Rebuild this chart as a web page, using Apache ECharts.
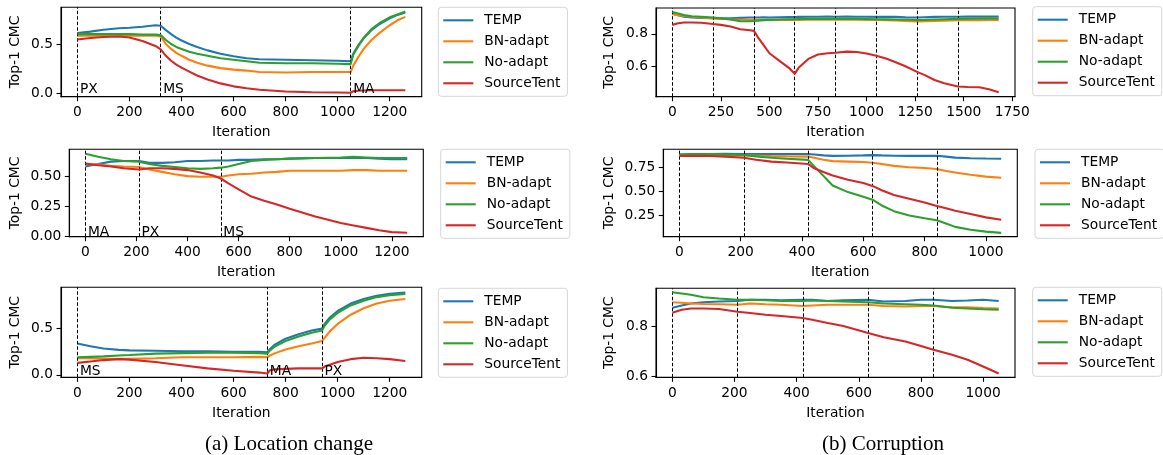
<!DOCTYPE html>
<html>
<head>
<meta charset="utf-8">
<script src="https://cdn.jsdelivr.net/npm/echarts@6/dist/echarts.min.js"></script>
<style>
html,body{margin:0;padding:0;background:#fff;}
#chart{width:1163px;height:455px;}
</style>
</head>
<body>
<div id="chart"></div>
<script>
// ---------------- DATA ----------------
const seriesNames = ['TEMP', 'BN-adapt', 'No-adapt', 'SourceTent'];

// (a) Location change, top: PX -> MS -> MA
const a1_iter = [0, 50, 100, 160, 200, 250, 300, 320, 340, 360, 380, 400, 430, 460, 500, 550, 600, 650, 700, 800, 900, 1000, 1050, 1060, 1080, 1100, 1130, 1160, 1200, 1230, 1260];
const a1_temp = [0.61, 0.625, 0.645, 0.66, 0.665, 0.675, 0.69, 0.685, 0.64, 0.60, 0.565, 0.535, 0.50, 0.47, 0.435, 0.40, 0.375, 0.355, 0.345, 0.34, 0.335, 0.33, 0.325, 0.40, 0.49, 0.56, 0.64, 0.70, 0.76, 0.795, 0.82];
const a1_bn   = [0.585, 0.585, 0.585, 0.585, 0.585, 0.585, 0.585, 0.575, 0.50, 0.45, 0.41, 0.38, 0.34, 0.31, 0.28, 0.255, 0.24, 0.23, 0.215, 0.21, 0.215, 0.215, 0.215, 0.28, 0.37, 0.45, 0.54, 0.61, 0.69, 0.74, 0.775];
const a1_noa  = [0.60, 0.60, 0.60, 0.60, 0.60, 0.595, 0.595, 0.59, 0.54, 0.50, 0.47, 0.45, 0.42, 0.40, 0.38, 0.355, 0.34, 0.325, 0.31, 0.305, 0.305, 0.30, 0.295, 0.39, 0.48, 0.56, 0.65, 0.71, 0.77, 0.80, 0.83];
const a1_st   = [0.545, 0.56, 0.57, 0.575, 0.565, 0.53, 0.48, 0.445, 0.38, 0.33, 0.29, 0.26, 0.22, 0.18, 0.14, 0.10, 0.07, 0.05, 0.035, 0.018, 0.01, 0.007, 0.005, 0.02, 0.025, 0.028, 0.03, 0.03, 0.03, 0.03, 0.03];
const a1_shifts = [0, 320, 1050];
const a1_shiftLabels = ['PX', 'MS', 'MA'];

// (a) Location change, middle: MA -> PX -> MS
const a2_iter = [0, 50, 100, 150, 210, 250, 300, 350, 400, 450, 500, 530, 560, 600, 650, 700, 750, 800, 900, 1000, 1050, 1100, 1150, 1200, 1260];
const a2_temp = [0.58, 0.60, 0.62, 0.625, 0.625, 0.61, 0.61, 0.615, 0.625, 0.625, 0.63, 0.63, 0.63, 0.635, 0.635, 0.64, 0.64, 0.645, 0.65, 0.65, 0.65, 0.65, 0.645, 0.64, 0.64];
const a2_bn   = [0.60, 0.595, 0.585, 0.58, 0.575, 0.555, 0.535, 0.515, 0.50, 0.495, 0.495, 0.495, 0.505, 0.515, 0.52, 0.53, 0.535, 0.545, 0.545, 0.545, 0.55, 0.55, 0.545, 0.545, 0.545];
const a2_noa  = [0.685, 0.66, 0.64, 0.625, 0.62, 0.60, 0.585, 0.575, 0.565, 0.56, 0.565, 0.57, 0.58, 0.60, 0.625, 0.635, 0.64, 0.645, 0.65, 0.655, 0.66, 0.655, 0.65, 0.65, 0.65];
const a2_st   = [0.605, 0.59, 0.58, 0.565, 0.555, 0.565, 0.565, 0.56, 0.55, 0.53, 0.505, 0.48, 0.44, 0.39, 0.33, 0.295, 0.265, 0.23, 0.165, 0.11, 0.09, 0.07, 0.05, 0.035, 0.03];
const a2_shifts = [0, 210, 530];
const a2_shiftLabels = ['MA', 'PX', 'MS'];

// (a) Location change, bottom: MS -> MA -> PX
const a3_iter = [0, 50, 100, 160, 200, 300, 400, 500, 600, 700, 730, 740, 760, 800, 850, 900, 940, 950, 970, 1000, 1050, 1100, 1150, 1200, 1260];
const a3_temp = [0.34, 0.31, 0.285, 0.27, 0.265, 0.26, 0.255, 0.255, 0.25, 0.25, 0.245, 0.28, 0.33, 0.39, 0.44, 0.48, 0.50, 0.55, 0.62, 0.69, 0.77, 0.82, 0.855, 0.875, 0.89];
const a3_bn   = [0.18, 0.18, 0.175, 0.175, 0.175, 0.18, 0.19, 0.19, 0.19, 0.195, 0.19, 0.21, 0.235, 0.275, 0.31, 0.34, 0.365, 0.40, 0.47, 0.55, 0.65, 0.72, 0.77, 0.80, 0.82];
const a3_noa  = [0.19, 0.195, 0.20, 0.21, 0.215, 0.23, 0.235, 0.24, 0.24, 0.235, 0.23, 0.265, 0.31, 0.365, 0.415, 0.455, 0.48, 0.53, 0.60, 0.67, 0.75, 0.80, 0.84, 0.86, 0.875];
const a3_st   = [0.13, 0.145, 0.16, 0.17, 0.165, 0.14, 0.105, 0.07, 0.045, 0.025, 0.015, 0.05, 0.06, 0.065, 0.07, 0.07, 0.07, 0.09, 0.11, 0.14, 0.17, 0.185, 0.18, 0.17, 0.15];
const a3_shifts = [0, 730, 940];
const a3_shiftLabels = ['MS', 'MA', 'PX'];

// (b) Corruption, top
const b1_iter = [0, 30, 60, 100, 150, 210, 250, 300, 350, 400, 420, 440, 470, 500, 550, 600, 630, 650, 700, 750, 800, 840, 900, 950, 1000, 1050, 1100, 1150, 1200, 1260, 1300, 1350, 1400, 1470, 1520, 1580, 1630, 1680];
const b1_temp = [0.925, 0.915, 0.905, 0.90, 0.897, 0.896, 0.895, 0.896, 0.898, 0.90, 0.90, 0.90, 0.901, 0.90, 0.902, 0.903, 0.903, 0.904, 0.905, 0.905, 0.906, 0.905, 0.906, 0.905, 0.905, 0.904, 0.905, 0.904, 0.901, 0.90, 0.902, 0.904, 0.905, 0.905, 0.906, 0.906, 0.907, 0.907];
const b1_bn   = [0.92, 0.915, 0.91, 0.905, 0.90, 0.895, 0.893, 0.89, 0.888, 0.887, 0.887, 0.886, 0.886, 0.886, 0.886, 0.886, 0.886, 0.886, 0.887, 0.887, 0.887, 0.887, 0.887, 0.887, 0.886, 0.885, 0.884, 0.882, 0.879, 0.876, 0.877, 0.879, 0.881, 0.883, 0.884, 0.884, 0.885, 0.885];
const b1_noa  = [0.935, 0.925, 0.915, 0.908, 0.905, 0.90, 0.895, 0.888, 0.878, 0.877, 0.879, 0.881, 0.884, 0.886, 0.888, 0.89, 0.89, 0.891, 0.892, 0.892, 0.892, 0.892, 0.892, 0.892, 0.891, 0.89, 0.889, 0.888, 0.887, 0.885, 0.886, 0.888, 0.89, 0.892, 0.893, 0.894, 0.895, 0.895];
const b1_st   = [0.855, 0.865, 0.87, 0.87, 0.868, 0.86, 0.855, 0.845, 0.828, 0.822, 0.818, 0.78, 0.73, 0.68, 0.635, 0.59, 0.553, 0.59, 0.645, 0.672, 0.68, 0.683, 0.69, 0.688, 0.678, 0.665, 0.648, 0.625, 0.60, 0.565, 0.545, 0.515, 0.495, 0.475, 0.472, 0.47, 0.458, 0.44];
const b1_shifts = [0, 210, 420, 630, 840, 1050, 1260, 1470];

// (b) Corruption, middle
const b2_iter = [0, 50, 100, 150, 210, 250, 300, 350, 420, 440, 470, 500, 550, 600, 630, 660, 700, 750, 800, 840, 870, 900, 950, 1000, 1050];
const b2_temp = [0.885, 0.888, 0.89, 0.892, 0.89, 0.89, 0.888, 0.888, 0.89, 0.885, 0.875, 0.87, 0.872, 0.875, 0.878, 0.875, 0.872, 0.87, 0.87, 0.872, 0.862, 0.852, 0.845, 0.842, 0.84];
const b2_bn   = [0.875, 0.878, 0.88, 0.878, 0.875, 0.872, 0.868, 0.865, 0.862, 0.85, 0.83, 0.815, 0.81, 0.805, 0.798, 0.785, 0.765, 0.75, 0.742, 0.732, 0.712, 0.695, 0.672, 0.652, 0.64];
const b2_noa  = [0.885, 0.888, 0.888, 0.885, 0.88, 0.865, 0.85, 0.84, 0.828, 0.76, 0.66, 0.56, 0.49, 0.44, 0.41, 0.35, 0.29, 0.245, 0.215, 0.195, 0.16, 0.125, 0.095, 0.075, 0.062];
const b2_st   = [0.868, 0.87, 0.868, 0.862, 0.85, 0.83, 0.81, 0.80, 0.785, 0.74, 0.70, 0.665, 0.62, 0.585, 0.555, 0.51, 0.46, 0.42, 0.38, 0.345, 0.32, 0.295, 0.26, 0.225, 0.20];
const b2_shifts = [0, 210, 420, 630, 840];

// (b) Corruption, bottom
const b3_iter = [0, 30, 60, 100, 150, 210, 250, 300, 350, 420, 450, 500, 550, 630, 680, 750, 800, 840, 900, 950, 1000, 1050];
const b3_temp = [0.873, 0.882, 0.89, 0.895, 0.898, 0.90, 0.905, 0.905, 0.903, 0.905, 0.905, 0.90, 0.903, 0.905, 0.898, 0.90, 0.905, 0.905, 0.90, 0.902, 0.905, 0.90];
const b3_bn   = [0.895, 0.893, 0.89, 0.888, 0.887, 0.885, 0.89, 0.887, 0.885, 0.88, 0.882, 0.885, 0.885, 0.885, 0.88, 0.878, 0.88, 0.88, 0.875, 0.875, 0.872, 0.87];
const b3_noa  = [0.935, 0.93, 0.925, 0.915, 0.91, 0.905, 0.905, 0.903, 0.90, 0.90, 0.902, 0.90, 0.898, 0.895, 0.89, 0.887, 0.885, 0.882, 0.873, 0.87, 0.867, 0.865];
const b3_st   = [0.853, 0.865, 0.87, 0.87, 0.868, 0.857, 0.852, 0.845, 0.84, 0.832, 0.825, 0.812, 0.80, 0.772, 0.755, 0.738, 0.72, 0.705, 0.685, 0.665, 0.638, 0.61];
const b3_shifts = [0, 210, 420, 630, 840];

// tick labels
const a_xTicks = [0, 200, 400, 600, 800, 1000, 1200];
const b1_xTicks = [0, 250, 500, 750, 1000, 1250, 1500, 1750];
const b_xTicks = [0, 200, 400, 600, 800, 1000];
const a1_yTicks = [0, 0.5];
const a2_yTicks = [0, 0.25, 0.5];
const a3_yTicks = [0, 0.5];
const b1_yTicks = [0.6, 0.8];
const b2_yTicks = [0.25, 0.5, 0.75];
const b3_yTicks = [0.6, 0.8];

// ---------------- LAYOUT / STYLE ----------------
const colors = ['#1f77b4', '#ff7f0e', '#2ca02c', '#d62728'];
const FONT = 'DejaVu Sans';
const FS = 13.8;

const panels = [
  {grid:{left:61, top:7.3, width:360.7, height:89.4}, iter:a1_iter, vals:[a1_temp,a1_bn,a1_noa,a1_st],
   x:{min:-63, max:1323, ticks:a_xTicks}, y:{min:-0.035, max:0.872, ticks:a1_yTicks, dec:1},
   shifts:a1_shifts, labels:a1_shiftLabels, legend:{left:438.3, top:7.3}, yGap:39},
  {grid:{left:69.3, top:149.3, width:354, height:87.4}, iter:a2_iter, vals:[a2_temp,a2_bn,a2_noa,a2_st],
   x:{min:-63, max:1323, ticks:a_xTicks}, y:{min:-0.003, max:0.7225, ticks:a2_yTicks, dec:2},
   shifts:a2_shifts, labels:a2_shiftLabels, legend:{left:440.7, top:149.3}, yGap:47},
  {grid:{left:61, top:287.3, width:360.7, height:90}, iter:a3_iter, vals:[a3_temp,a3_bn,a3_noa,a3_st],
   x:{min:-63, max:1323, ticks:a_xTicks}, y:{min:-0.026, max:0.946, ticks:a3_yTicks, dec:1},
   shifts:a3_shifts, labels:a3_shiftLabels, legend:{left:438.3, top:288.3}, yGap:39},
  {grid:{left:656, top:8, width:359, height:88.7}, iter:b1_iter, vals:[b1_temp,b1_bn,b1_noa,b1_st],
   x:{min:-84, max:1764, ticks:b1_xTicks}, y:{min:0.412, max:0.959, ticks:b1_yTicks, dec:1},
   shifts:b1_shifts, labels:null, legend:{left:1032.7, top:6.7}, yGap:39.5},
  {grid:{left:663.3, top:149.3, width:354, height:87.4}, iter:b2_iter, vals:[b2_temp,b2_bn,b2_noa,b2_st],
   x:{min:-52.5, max:1102.5, ticks:b_xTicks}, y:{min:0.022, max:0.939, ticks:b2_yTicks, dec:2},
   shifts:b2_shifts, labels:null, legend:{left:1035, top:149.3}, yGap:47},
  {grid:{left:656, top:288.3, width:359, height:89}, iter:b3_iter, vals:[b3_temp,b3_bn,b3_noa,b3_st],
   x:{min:-52.5, max:1102.5, ticks:b_xTicks}, y:{min:0.595, max:0.951, ticks:b3_yTicks, dec:1},
   shifts:b3_shifts, labels:null, legend:{left:1032.7, top:287.3}, yGap:39.5}
];

const grids = [], xAxes = [], yAxes = [], series = [], legends = [];
panels.forEach((p, i) => {
  grids.push(Object.assign({show:true, borderColor:'#000', borderWidth:1.1, backgroundColor:'transparent'}, p.grid));
  xAxes.push({
    type:'value', gridIndex:i, min:p.x.min, max:p.x.max,
    name:'Iteration', nameLocation:'middle', nameGap:29,
    nameTextStyle:{fontFamily:FONT, fontSize:FS, color:'#000'},
    axisLine:{show:true, onZero:false, lineStyle:{color:'#000', width:1.1}},
    axisTick:{show:true, length:4.5, customValues:p.x.ticks, lineStyle:{color:'#000', width:1.1}},
    axisLabel:{show:true, margin:9, customValues:p.x.ticks, fontFamily:FONT, fontSize:FS, color:'#000',
               formatter: v => String(v)},
    splitLine:{show:false}
  });
  yAxes.push({
    type:'value', gridIndex:i, min:p.y.min, max:p.y.max,
    name:'Top-1 CMC', nameLocation:'middle', nameGap:p.yGap, nameRotate:90,
    nameTextStyle:{fontFamily:FONT, fontSize:FS, color:'#000'},
    axisLine:{show:true, onZero:false, lineStyle:{color:'#000', width:1.1}},
    axisTick:{show:true, length:4.5, customValues:p.y.ticks, lineStyle:{color:'#000', width:1.1}},
    axisLabel:{show:true, margin:8, customValues:p.y.ticks, fontFamily:FONT, fontSize:FS, color:'#000',
               formatter: v => Number(v).toFixed(p.y.dec)},
    splitLine:{show:false}
  });
  seriesNames.forEach((name, k) => {
    series.push({
      name, type:'line', xAxisIndex:i, yAxisIndex:i,
      data: p.iter.map((x, j) => [x, p.vals[k][j]]),
      showSymbol:false, symbol:'none', smooth:false,
      lineStyle:{color:colors[k], width:2.1}, itemStyle:{color:colors[k]},
      z: 3 + k, silent:true
    });
  });
  // domain shift markers + labels
  series.push({
    type:'scatter', xAxisIndex:i, yAxisIndex:i, symbolSize:1, silent:true,
    itemStyle:{color:'#000', opacity:0},
    data: p.labels ? p.shifts.map((s, j) => ({value:[s, 0], name:p.labels[j]})) : [],
    label:{show:!!p.labels, formatter: d => d.name, position:[3, 4], align:'left', verticalAlign:'bottom',
           fontFamily:FONT, fontSize:FS, color:'#000', opacity:1},
    markLine:{silent:true, symbol:['none','none'], animation:false,
      label:{show:false},
      lineStyle:{type:[3.5, 2], color:'#000', width:1, opacity:1},
      emphasis:{disabled:true},
      data: p.shifts.map(s => ({xAxis:s}))},
    z: 10
  });
  legends.push({
    left:p.legend.left, top:p.legend.top, orient:'vertical',
    data: seriesNames.slice(),
    icon:'rect', itemWidth:30, itemHeight:2.1, itemGap:5,
    padding:[5, 7, 5, 5],
    borderColor:'#d6d6d6', borderWidth:1, borderRadius:3, backgroundColor:'rgba(255,255,255,0.8)',
    textStyle:{fontFamily:FONT, fontSize:FS, color:'#000', lineHeight:16, padding:[0,0,0,6]},
    selectedMode:false
  });
});

const chart = echarts.init(document.getElementById('chart'), null, {renderer:'canvas'});
chart.setOption({
  animation:false,
  backgroundColor:'#fff',
  color:colors,
  grid:grids, xAxis:xAxes, yAxis:yAxes, series, legend:legends,
  graphic:[
    {type:'text', style:{text:'(a) Location change', fontFamily:'Liberation Serif', fontSize:21, fill:'#000',
      x:289, y:444, align:'center', verticalAlign:'middle'}},
    {type:'text', style:{text:'(b) Corruption', fontFamily:'Liberation Serif', fontSize:21, fill:'#000',
      x:883, y:444, align:'center', verticalAlign:'middle'}}
  ]
});
</script>
</body>
</html>
